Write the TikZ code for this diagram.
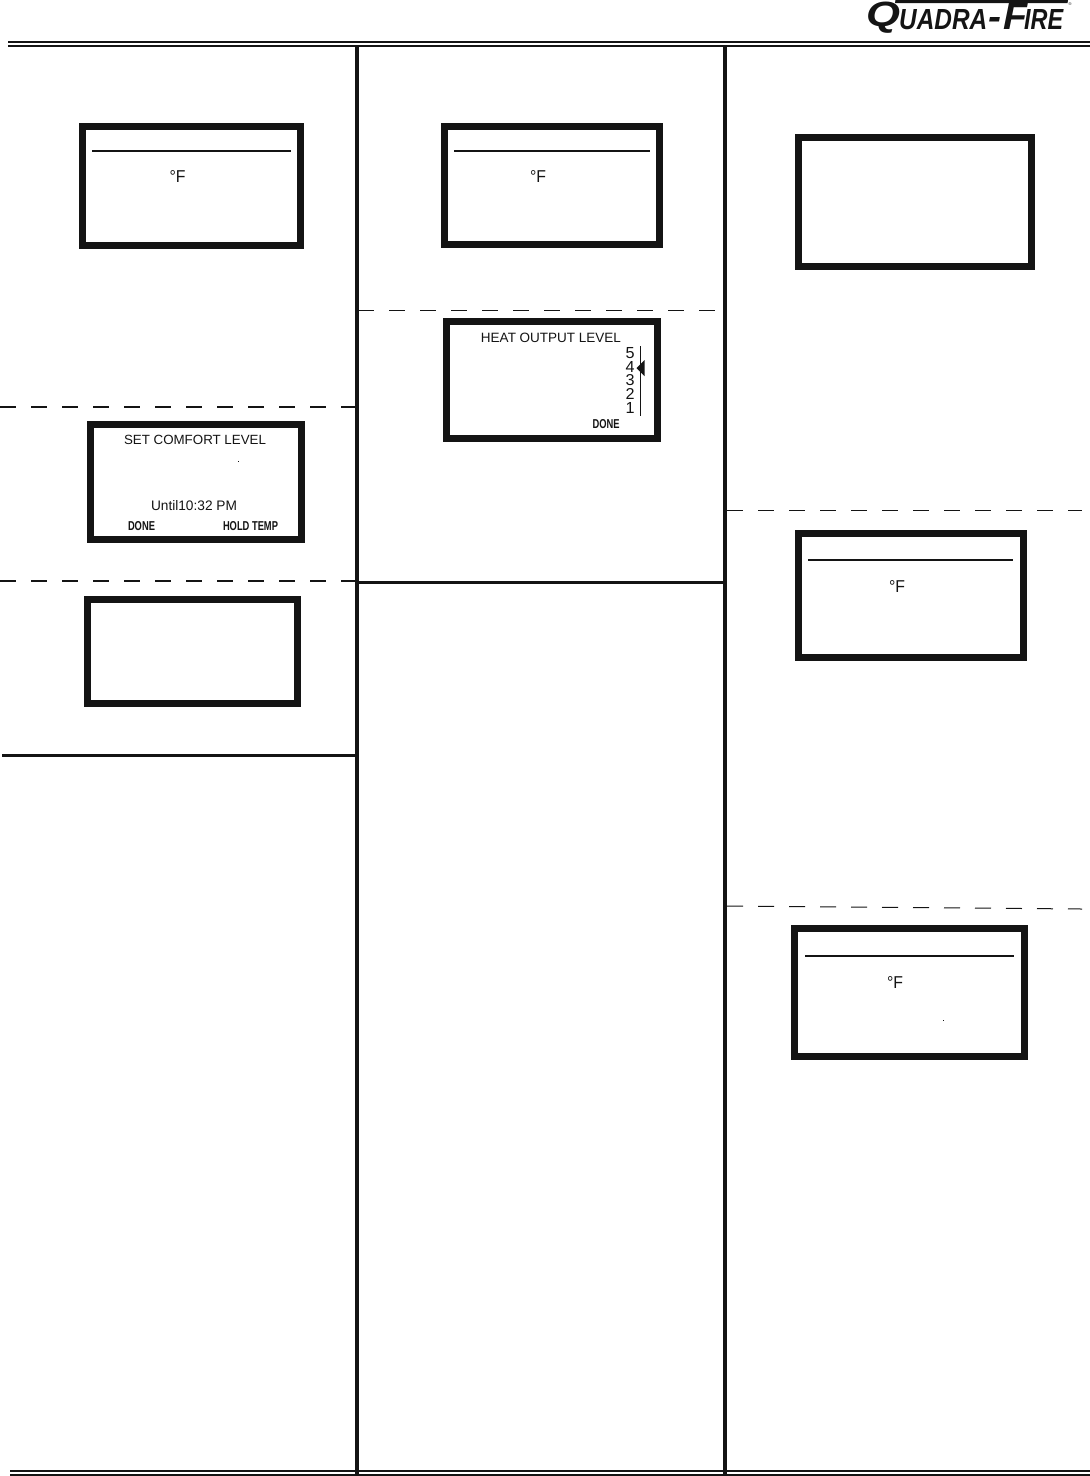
\documentclass[tikz,border=0pt]{standalone}
\usepackage{fontspec}
\setmainfont{Liberation Sans}
\usepackage{graphicx}
\usetikzlibrary{positioning}
\definecolor{cnegro}{HTML}{141414}
\tikzset{
  pantalla/.style={rectangle, draw=cnegro, fill=white, line width=7pt, inner sep=0pt, minimum width=#1},
  regla/.style={draw=cnegro, line width=1.6pt},
  columna/.style={draw=cnegro, line width=3.4pt},
  corte/.style={draw=cnegro, line width=1.8pt, dash pattern=on 16pt off 15pt},
  cortefino/.style={draw=cnegro, line width=1pt, dash pattern=on 16pt off 15pt},
  filete/.style={draw=cnegro, line width=1.4pt},
  lcd/.style={inner sep=0pt, font=\fontsize{13}{13}\selectfont, text=cnegro},
  lcdbold/.style={inner sep=0pt, font=\fontsize{11}{11}\selectfont, text=cnegro},
  letra/.style={inner sep=0pt, anchor=south west, text=cnegro, font=\bfseries\itshape},
}
\newcommand{\grados}{\resizebox{16pt}{12pt}{°F}}
\begin{document}
\begin{tikzpicture}[x=1pt, y=-1pt]
        \useasboundingbox (0,0) rectangle (1090,1476);
        % rules of the page
        \draw[regla] (8,42) -- (1090,42);
        \draw[regla] (8,45.8) -- (1090,45.8);
        \draw[regla] (10,1471) -- (1090,1471);
        \draw[regla] (10,1475) -- (1090,1475);
        \draw[columna] (357,46) -- (357,1474);
        \draw[columna] (725,46) -- (725,1474);
        \draw[corte] (0,407) -- (356,407);
        \draw[corte] (0,581) -- (356,581);
        \draw[cortefino] (358,310) -- (715,310);
        \draw[cortefino] (727,510) -- (1082,510);
        \draw[cortefino] (727,906) -- (1082,909);
        \draw[columna, line width=3pt] (2,755) -- (356,755);
        \draw[columna, line width=3pt] (358,582) -- (724,582);
        % logo
        \fill[cnegro] (895.5,0) -- (1068,0) -- (1067.5,3) -- (895,3) -- cycle;
        \node[letra] (lq) at (866,33.5) {\resizebox{34pt}{24.5pt}{Q}};
        \node[letra] (lu) at (899,30) {\resizebox{88pt}{20pt}{UADRA}};
        \node[letra] (lg) at (988,30) {\resizebox{13pt}{12pt}{-}};
        \node[letra] (lf) at (1003,30) {\resizebox{24pt}{26pt}{F}};
        \node[letra] (li) at (1024,30) {\resizebox{39pt}{20pt}{IRE}};
        \node[inner sep=0pt, text=cnegro, font=\fontsize{4}{4}\selectfont] (marca) at (1070,4) {®};
        % screens, left column
        \node[pantalla=218pt, minimum height=119pt] (p1) at (191.5,186) {};
        \draw[filete] (92,151) -- (291,151);
        \node[lcd] (g1) at (177.5,176) {\grados};
        \node[pantalla=211pt, minimum height=115pt] (p2) at (196,482) {};
        \node[lcd] (t2) at (195,440) {\resizebox{142pt}{!}{SET COMFORT LEVEL}};
        \node[lcd] (u2) at (194,506) {\resizebox{86pt}{10pt}{Until10:32 PM}};
        \node[lcdbold] (d2) at (141.5,526) {\resizebox{27pt}{9pt}{\bfseries DONE}};
        \node[lcdbold] (h2) at (250.5,526) {\resizebox{55pt}{9pt}{\bfseries HOLD TEMP}};
        \fill[cnegro] (237.7,460.7) rectangle (238.5,461.5);
        \node[pantalla=210pt, minimum height=104pt] (p3) at (192.5,651.5) {};
        % screens, middle column
        \node[pantalla=215pt, minimum height=118pt] (p4) at (552,185.5) {};
        \draw[filete] (454,151) -- (650,151);
        \node[lcd] (g4) at (538,176) {\grados};
        \node[pantalla=211pt, minimum height=117pt] (p5) at (552,380) {};
        \node[lcd] (t5) at (551,337.5) {\resizebox{140pt}{!}{HEAT OUTPUT LEVEL}};
        \foreach \num/\alt in {5/353, 4/367, 3/380, 2/394, 1/408}
          \node[lcd] (n\num) at (630,\alt) {\resizebox{9pt}{11pt}{\num}};
        \draw[cnegro, line width=0.9pt] (640.5,346) -- (640.5,416);
        \fill[cnegro] (636.5,368) -- (644.5,360) -- (644.5,376) -- cycle;
        \node[lcdbold] (d5) at (606,424) {\resizebox{27pt}{9pt}{\bfseries DONE}};
        % screens, right column
        \node[pantalla=233pt, minimum height=129pt] (p6) at (915,202) {};
        \node[pantalla=225pt, minimum height=124pt] (p7) at (911,595.5) {};
        \draw[filete] (808,560) -- (1013,560);
        \node[lcd] (g7) at (897,586) {\grados};
        \node[pantalla=230pt, minimum height=128pt] (p8) at (909.5,992.5) {};
        \draw[filete] (805,956) -- (1014,956);
        \node[lcd] (g8) at (895,982) {\grados};
        \fill[cnegro] (942.5,1019.6) rectangle (944,1020.4);
    \end{tikzpicture}
\end{document}
